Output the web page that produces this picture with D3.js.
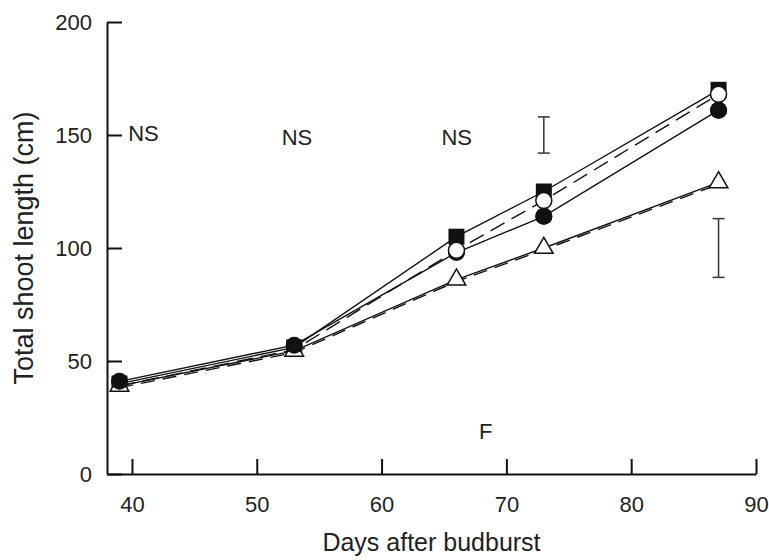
<!DOCTYPE html>
<html>
<head>
<meta charset="utf-8">
<script src="https://cdn.jsdelivr.net/npm/d3@7"></script>
<style>
  body { margin: 0; background: #fff; }
  svg { display: block; font-family: "Liberation Sans", Arial, sans-serif; }
</style>
</head>
<body>
<svg id="chart" width="769" height="560"></svg>
<script>
// days after budburst
const days = [39, 53, 66, 73, 87];

// total shoot length (cm) per treatment
const filledSquare = [40, 56, 105, 125, 170];
const openCircle   = [39, 55, 99, 121, 168];
const filledCircle = [41, 57, 98, 114, 161];
const openTriangle = [39, 54.5, 86, 100, 129];

const xTicks = [40, 50, 60, 70, 80, 90];
const yTicks = [0, 50, 100, 150, 200];

// LSD bars: day, low, high
const errDays = [73, 87];
const errLow  = [142, 87];
const errHigh = [158, 113];

// significance labels
const noteText = ["NS", "NS", "NS", "F"];
const noteDay  = [39.7, 52.0, 64.8, 67.8];
const noteVal  = [151, 149, 149, 19];

const svg = d3.select("#chart");
const x = d3.scaleLinear([38, 90], [107, 756]);
const y = d3.scaleLinear([0, 200], [474, 22]);

// axes
const gx = svg.append("g")
  .attr("transform", `translate(0,${y(0)})`)
  .call(d3.axisBottom(x).tickValues(xTicks).tickSize(-15).tickSizeOuter(0).tickPadding(22));
const gy = svg.append("g")
  .attr("transform", `translate(${x(38)},0)`)
  .call(d3.axisLeft(y).tickValues(yTicks).tickSize(-15).tickSizeOuter(0).tickPadding(15));

[gx, gy].forEach(g => {
  g.selectAll("path, line").attr("stroke", "#111").attr("stroke-width", 2);
  g.selectAll("text").attr("font-size", 22).attr("fill", "#222").attr("font-family", "Liberation Sans, Arial, sans-serif");
});

svg.append("text")
  .attr("x", (x(38) + x(90)) / 2).attr("y", 551)
  .attr("text-anchor", "middle").attr("font-size", 25).attr("fill", "#222")
  .text("Days after budburst");

svg.append("text")
  .attr("transform", `translate(33,${(y(0) + y(200)) / 2}) rotate(-90)`)
  .attr("text-anchor", "middle").attr("font-size", 27).attr("fill", "#222")
  .text("Total shoot length (cm)");

// lines
const line = d3.line().x(d => x(d[0])).y(d => y(d[1]));
const pts = vals => days.map((d, i) => [d, vals[i]]);

function drawLine(vals, dash, dy) {
  svg.append("path")
    .datum(pts(vals))
    .attr("d", line)
    .attr("transform", `translate(0,${dy || 0})`)
    .attr("fill", "none")
    .attr("stroke", "#111")
    .attr("stroke-width", 1.4)
    .attr("stroke-dasharray", dash || null);
}

drawLine(filledSquare);
drawLine(openCircle, "16,8");
drawLine(filledCircle);
drawLine(openTriangle);
drawLine(openTriangle, "14,8", 1.8);

// markers
svg.append("g").selectAll("rect")
  .data(pts(filledSquare)).join("rect")
  .attr("x", d => x(d[0]) - 8).attr("y", d => y(d[1]) - 8)
  .attr("width", 16).attr("height", 16)
  .attr("fill", "#111");

const tri = d3.symbol(d3.symbolTriangle, 150);
svg.append("g").selectAll("path")
  .data(pts(openTriangle)).join("path")
  .attr("d", tri)
  .attr("transform", d => `translate(${x(d[0])},${y(d[1])})`)
  .attr("fill", "#fff").attr("stroke", "#111").attr("stroke-width", 1.5);

svg.append("g").selectAll("circle")
  .data(pts(filledCircle)).join("circle")
  .attr("cx", d => x(d[0])).attr("cy", d => y(d[1])).attr("r", 8.5)
  .attr("fill", "#111");

svg.append("g").selectAll("circle")
  .data(pts(openCircle).filter(d => d[0] >= 66)).join("circle")
  .attr("cx", d => x(d[0])).attr("cy", d => y(d[1])).attr("r", 8)
  .attr("fill", "#fff").attr("stroke", "#111").attr("stroke-width", 1.5);

// filled circle sits in front at 73 and 87
svg.append("g").selectAll("circle")
  .data(pts(filledCircle).filter(d => d[0] >= 73)).join("circle")
  .attr("cx", d => x(d[0])).attr("cy", d => y(d[1])).attr("r", 8.5)
  .attr("fill", "#111");

// error bars
const eb = svg.append("g").attr("stroke", "#333").attr("stroke-width", 1.5);
errDays.forEach((d, i) => {
  eb.append("line").attr("x1", x(d)).attr("x2", x(d)).attr("y1", y(errLow[i])).attr("y2", y(errHigh[i]));
  [errLow[i], errHigh[i]].forEach(v => {
    eb.append("line").attr("x1", x(d) - 6).attr("x2", x(d) + 6).attr("y1", y(v)).attr("y2", y(v));
  });
});

// annotations
svg.append("g").selectAll("text")
  .data(noteText).join("text")
  .attr("x", (t, i) => x(noteDay[i])).attr("y", (t, i) => y(noteVal[i]))
  .attr("dy", "0.36em")
  .attr("font-size", 22).attr("fill", "#222")
  .text(t => t);
</script>
</body>
</html>
